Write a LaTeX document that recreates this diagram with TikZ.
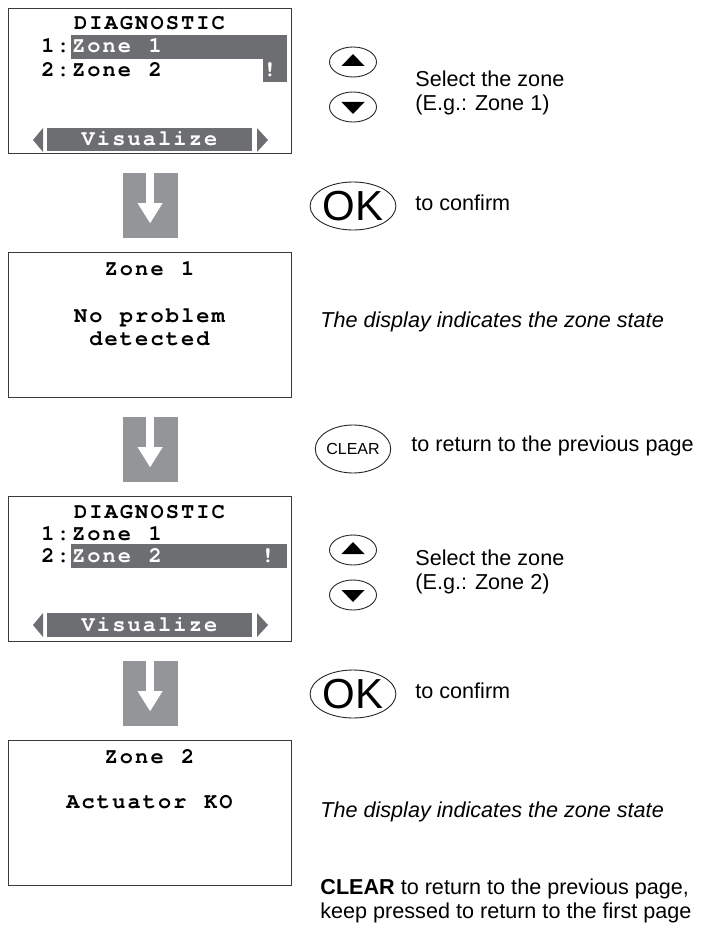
\documentclass[tikz,border=0pt]{standalone}
\usepackage{fontspec}
\setmainfont{Liberation Sans}
\newfontfamily\lcdfont{TeX Gyre Cursor}
\usetikzlibrary{calc,shapes.geometric}
\definecolor{lcdgray}{HTML}{6D6E71}
\definecolor{flowgray}{HTML}{939598}
\definecolor{framegray}{HTML}{3A3A3C}
\newlength\lcdpitch
\setlength\lcdpitch{7.65pt}
\newcommand\lcdtxt[1]{\lcdloop#1\relax}
\def\lcdloop#1{\ifx\relax#1\else\hbox to\lcdpitch{\hss#1\hss}\expandafter\lcdloop\fi}
\tikzset{
  lcd/.style={draw=framegray, line width=0.6pt, minimum width=141.5pt, minimum height=72.5pt, inner sep=0pt},
  lcdtext/.style={inner sep=0pt, anchor=base, font=\lcdfont\bfseries\fontsize{11}{11}\selectfont},
  hibar/.style={fill=lcdgray},
  btn/.style={draw=black!85, line width=0.45pt, ellipse, minimum width=23.5pt, minimum height=15pt, inner sep=0pt},
  bigbtn/.style={btn, minimum width=37.5pt, minimum height=24pt},
  hint/.style={anchor=west, inner sep=0pt, align=left, font=\fontsize{10.8}{12}\selectfont}
}

\begin{document}
\begin{tikzpicture}[x=0.5pt, y=-0.5pt]
  \useasboundingbox (0,0) rectangle (701,931);
  % screen 1: menu, zone 1 selected
  \node[lcd, anchor=north west] (scr1) at (8,8) {};
  \node[lcdtext] (s1title) at (149.5,30) {\lcdtxt{DIAGNOSTIC}};
  \fill[hibar] (71,35) rectangle (287,59);
  \fill[hibar] (263,59) rectangle (287,82);
  \node[lcdtext, anchor=base west] (s1n1) at (40,53) {\lcdtxt{1:}};
  \node[lcdtext, anchor=base west, text=white] (s1z1) at (70.6,53) {\lcdtxt{Zone~1}};
  \node[lcdtext, anchor=base west] (s1z2) at (40,77) {\lcdtxt{2:Zone~2}};
  \node[lcdtext, text=white] (s1warn) at (270,77) {!};
  \fill[hibar] (47,128) rectangle (252,151);
  \node[lcdtext, text=white] (s1menu) at (149.5,146) {\lcdtxt{Visualize}};
  \fill[lcdgray] (43,128) -- (43,152) -- (33,140) -- cycle;
  \fill[lcdgray] (257,128) -- (257,152) -- (268,140) -- cycle;
  % screen 2
  \node[lcd, anchor=north west] (scr2) at (8,252) {};
  \node[lcdtext] (s2title) at (149.5,275) {\lcdtxt{Zone~1}};
  \node[lcdtext] (s2msa) at (149.5,322) {\lcdtxt{No~problem}};
  \node[lcdtext] (s2msb) at (149.5,345) {\lcdtxt{detected}};
  % screen 3: menu, zone 2 selected
  \node[lcd, anchor=north west] (scr3) at (8,496) {};
  \node[lcdtext] (s3title) at (149.5,518) {\lcdtxt{DIAGNOSTIC}};
  \node[lcdtext, anchor=base west] (s3z1) at (40,540) {\lcdtxt{1:Zone~1}};
  \fill[hibar] (71,544) rectangle (287,568);
  \node[lcdtext, anchor=base west] (s3n2) at (40,562) {\lcdtxt{2:}};
  \node[lcdtext, anchor=base west, text=white] (s3z2) at (70.6,562) {\lcdtxt{Zone~2}};
  \node[lcdtext, text=white] (s3warn) at (268,562) {!};
  \fill[hibar] (47,613) rectangle (252,637);
  \node[lcdtext, text=white] (s3menu) at (149.5,631) {\lcdtxt{Visualize}};
  \fill[lcdgray] (43,613) -- (43,637) -- (33,625) -- cycle;
  \fill[lcdgray] (257,613) -- (257,637) -- (268,625) -- cycle;
  % screen 4
  \node[lcd, anchor=north west] (scr4) at (8,740) {};
  \node[lcdtext] (s4title) at (149.5,763) {\lcdtxt{Zone~2}};
  \node[lcdtext] (s4msg) at (149.5,808) {\lcdtxt{Actuator~KO}};
  % arrows between the screens
  \foreach \s in {scr1,scr2,scr3} {
    \fill[flowgray] ($(\s.south)+(-27.5,19)$) rectangle ($(\s.south)+(27.5,84)$);
    \fill[white] ($(\s.south)+(-4,19)$) rectangle ($(\s.south)+(4,50)$);
    \fill[white] ($(\s.south)+(-12.5,49)$) -- ($(\s.south)+(12.5,49)$) -- ($(\s.south)+(0,69)$) -- cycle;
  }
  % keys and hints
  \node[btn] (up1) at (353,62) {};
  \node[btn] (dn1) at (353,107) {};
  \node[hint] (sel1) at (415,93) {Select the zone\\(E.g.: Zone 1)};
  \node[bigbtn, font=\fontsize{21}{21}\selectfont] (ok1) at (353,206) {OK};
  \node[hint] (conf1) at (415,203) {to confirm};
  \node[hint, font=\fontsize{10.8}{12}\selectfont\itshape] (state1) at (320,322) {The display indicates the zone state};
  \node[bigbtn, font=\fontsize{8}{8}\selectfont] (clr) at (353,449) {CLEAR};
  \node[hint] (back1) at (411,446) {to return to the previous page};
  \node[btn] (up2) at (353,550) {};
  \node[btn] (dn2) at (353,595) {};
  \node[hint] (sel2) at (415,572) {Select the zone\\(E.g.: Zone 2)};
  \node[bigbtn, font=\fontsize{21}{21}\selectfont] (ok2) at (353,694) {OK};
  \node[hint] (conf2) at (415,691) {to confirm};
  \node[hint, font=\fontsize{10.8}{12}\selectfont\itshape] (state2) at (320,812) {The display indicates the zone state};
  \node[hint] (back2) at (320,901) {\textbf{CLEAR} to return to the previous page,\\keep pressed to return to the first page};
  \foreach \k in {up1,up2} {
    \fill ($(\k)+(-11.5,4)$) -- ($(\k)+(11.5,4)$) -- ($(\k)+(0,-8)$) -- cycle;
  }
  \foreach \k in {dn1,dn2} {
    \fill ($(\k)+(-11.5,-5)$) -- ($(\k)+(11.5,-5)$) -- ($(\k)+(0,7)$) -- cycle;
  }
\end{tikzpicture}
\end{document}
